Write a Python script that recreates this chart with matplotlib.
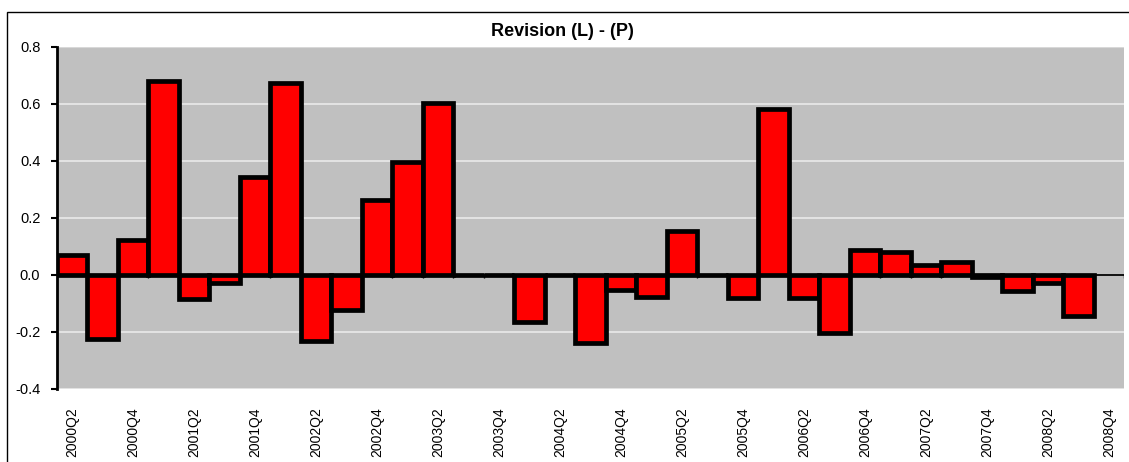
import matplotlib
matplotlib.use("Agg")
import matplotlib.pyplot as plt
from matplotlib.patches import Rectangle
import numpy as np

plt.rcParams['font.family'] = ['Liberation Sans', 'DejaVu Sans']

quarters = [f"{y}Q{q}" for y in range(2000, 2009) for q in range(1, 5)][1:]  # 2000Q2..2008Q4
values = [0.070, -0.225, 0.121, 0.679, -0.084, -0.028, 0.344, 0.671, -0.231, -0.124,
          0.264, 0.397, 0.604, 0.0, 0.0, -0.166, 0.0, -0.239, -0.054, -0.077,
          0.154, 0.0, -0.082, 0.581, -0.082, -0.203, 0.086, 0.082, 0.035, 0.044,
          -0.007, -0.058, -0.028, -0.145, np.nan]
title = "Revision (L) - (P)"
yticks = [-0.4, -0.2, 0.0, 0.2, 0.4, 0.6, 0.8]

W, H = 1129, 462
fig = plt.figure(figsize=(W / 100, H / 100), dpi=100)
fig.patch.set_facecolor('white')

# outer frame
fig.add_artist(Rectangle((7 / W, -0.05), 1.2, 1 - 12 / H + 0.05, transform=fig.transFigure,
                         fill=False, edgecolor='black', linewidth=1.0))

ax = fig.add_axes([57 / W, 1 - 389 / H, (1124 - 57) / W, (389 - 46.7) / H])
ax.set_facecolor('#C0C0C0')

n = len(quarters)
x = np.arange(n)
ax.set_xlim(-0.5, n - 0.5)
ax.set_ylim(-0.4, 0.8)

ax.set_yticks(yticks)
ax.set_yticklabels([f"{v:.1f}" for v in yticks], fontsize=10.5)
ax.grid(axis='y', color='#EAEAEA', linewidth=1.2, zorder=0)
ax.set_axisbelow(True)

ax.axhline(0, color='black', linewidth=1.3, zorder=2)
bounds = np.arange(n) + 0.5
ax.vlines(bounds, -0.012, 0, color='black', linewidth=1.0, zorder=2)

vals = np.array(values, dtype=float)
mask = ~np.isnan(vals)
ax.bar(x[mask], vals[mask], width=1.0, color='#FF0000', edgecolor='black',
       linewidth=3.4, zorder=3)

ax.set_xticks(x[::2])
ax.set_xticklabels(quarters[::2], rotation=90, fontsize=10, va='top')
ax.tick_params(axis='x', length=0, pad=13)
ax.tick_params(axis='y', length=4, width=1.5, direction='out', pad=8)

for s in ['top', 'right', 'bottom']:
    ax.spines[s].set_visible(False)
ax.spines['left'].set_linewidth(2.0)
ax.axhline(0.8, color='#D8D8D8', linewidth=1.5, zorder=1)

fig.text(562 / W, 1 - 31 / H, title, ha='center', va='center',
         fontsize=13, fontweight='bold')

fig.savefig('out.png', dpi=100)
